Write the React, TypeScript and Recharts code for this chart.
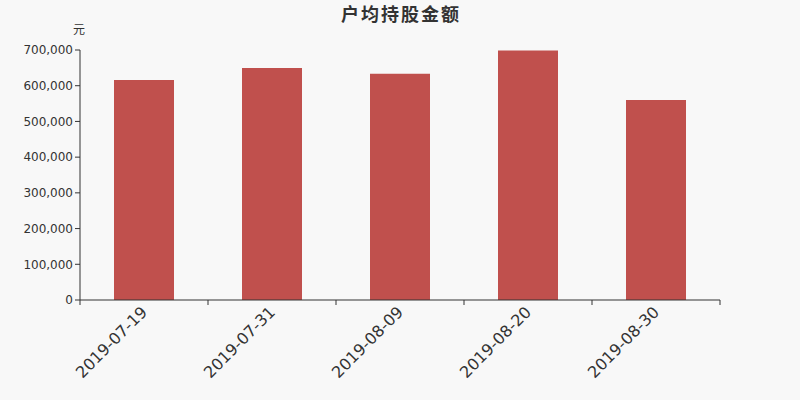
import React from 'react';
import { BarChart, Bar, XAxis, YAxis } from 'recharts';

const dates = ['2019-07-19', '2019-07-31', '2019-08-09', '2019-08-20', '2019-08-30'];
const amounts = [616000, 649500, 633500, 698500, 560000];
const yTicks = [0, 100000, 200000, 300000, 400000, 500000, 600000, 700000];

const chartData = dates.map((d, i) => ({ name: d, value: amounts[i] }));

const FONT = '"DejaVu Sans", sans-serif';
const AXIS = '#333';

// category ticks sit on band edges, labels at band centre, rotated
const DateTick = (props: any) => {
  const { x, y, payload, index } = props;
  const half = 64;
  return (
    <g>
      <line x1={x - half} y1={y - 8} x2={x - half} y2={y - 3} stroke={AXIS} />
      {index === dates.length - 1 && (
        <line x1={x + half} y1={y - 8} x2={x + half} y2={y - 3} stroke={AXIS} />
      )}
      <text
        x={x + 1}
        y={y + 2}
        textAnchor="end"
        fill={AXIS}
        fontSize={16}
        fontFamily={FONT}
        transform={`rotate(-45 ${x + 1} ${y + 2})`}
        dominantBaseline="middle"
      >
        {payload.value}
      </text>
    </g>
  );
};

const App: React.FC = () => {
  return (
    <div style={{ position: 'absolute', left: 0, top: 0, width: 800, height: 400, background: '#f8f8f8' }}>
      <div
        style={{
          position: 'absolute',
          top: 0,
          left: 1,
          width: 800,
          textAlign: 'center',
          fontFamily: '"Noto Sans CJK SC", sans-serif',
          fontWeight: 'bold',
          fontSize: 18,
          letterSpacing: 2,
          lineHeight: '26px',
          color: '#333',
        }}
      >
        户均持股金额
      </div>
      <div
        style={{
          position: 'absolute',
          top: 20,
          left: 73,
          fontFamily: '"Noto Sans CJK SC", sans-serif',
          fontSize: 12,
          color: '#333',
        }}
      >
        元
      </div>
      <BarChart
        width={800}
        height={400}
        data={chartData}
        margin={{ top: 50, right: 80, left: 0, bottom: 0 }}
      >
        <XAxis
          dataKey="name"
          height={100}
          axisLine={{ stroke: AXIS }}
          tickLine={false}
          tick={<DateTick />}
          interval={0}
        />
        <YAxis
          width={80}
          domain={[0, 700000]}
          ticks={yTicks}
          interval={0}
          axisLine={{ stroke: AXIS }}
          tickLine={{ stroke: AXIS }}
          tickSize={5}
          tick={{ fill: AXIS, fontSize: 12, fontFamily: FONT }}
          tickFormatter={(v: number) => v.toLocaleString('en-US')}
        />
        <Bar dataKey="value" fill="#c0504d" barSize={60} isAnimationActive={false} />
      </BarChart>
    </div>
  );
};

export default App;
